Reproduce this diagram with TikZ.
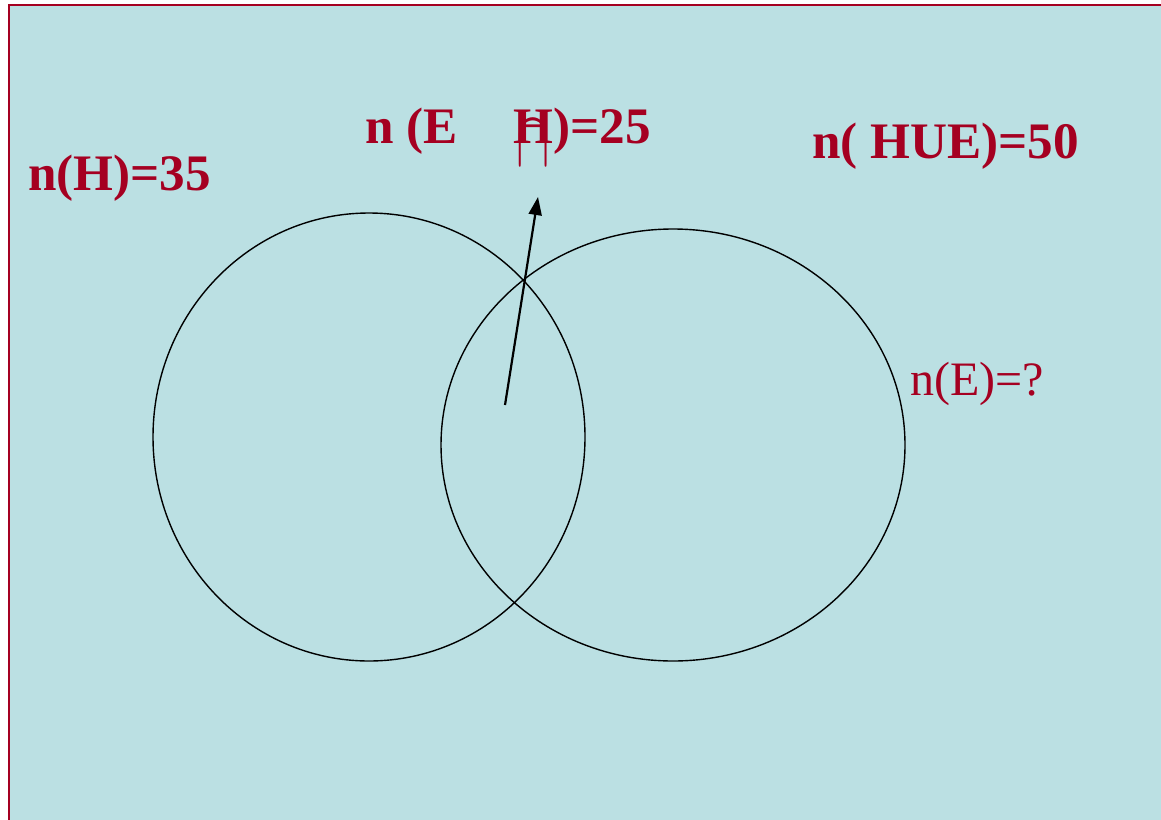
\documentclass[tikz,border=0pt]{standalone}
\usepackage{fontspec}
\setmainfont{Liberation Serif}
\usepackage{xcolor}
\usetikzlibrary{shapes.geometric, arrows.meta, positioning}

\definecolor{slidebg}{HTML}{BBE0E3}
\definecolor{slidered}{HTML}{A50021}

\begin{document}
\begin{tikzpicture}[
    x=0.5pt, y=-0.5pt,
    label/.style={text=slidered, font=\bfseries\fontsize{25.6}{30}\selectfont, inner sep=0pt, anchor=base west},
    plain/.style={text=slidered, font=\fontsize{24}{28}\selectfont, inner sep=0pt, anchor=base west},
    set/.style={ellipse, draw, line width=0.7pt, inner sep=0pt},
    arrow/.style={-{Triangle[length=9pt, width=6.5pt]}, line width=1.1pt},
]
\useasboundingbox (0,0) rectangle (1161,819);

% fondo
\draw[fill=slidebg, draw=slidered, line width=1.1pt] (9,5) rectangle (1175,835);

% conjuntos
\node[set, minimum width=216pt, minimum height=224pt] (setH) at (369,437) {};
\node[set, minimum width=232pt, minimum height=216pt] (setE) at (673,445) {};

% etiquetas
\node[label] (nH) at (28,190) {n(H)=35};
\node[label] (nEH) at (365,143) {n (E\hspace{28pt}H)=25};
\node[text=slidered, font=\fontsize{10}{12}\selectfont, inner sep=0pt, xscale=2.5, yscale=4] (capsym) at (533,143) {$\cap$};
\node[label] (nHUE) at (812,158) {n( HUE)=50};
\node[plain] (nE) at (910,395) {n(E)=?};

% flecha
\coordinate (tail) at (505,405);
\coordinate (head) at (538,197);
\draw[arrow] (tail) -- (head);

\end{tikzpicture}
\end{document}
